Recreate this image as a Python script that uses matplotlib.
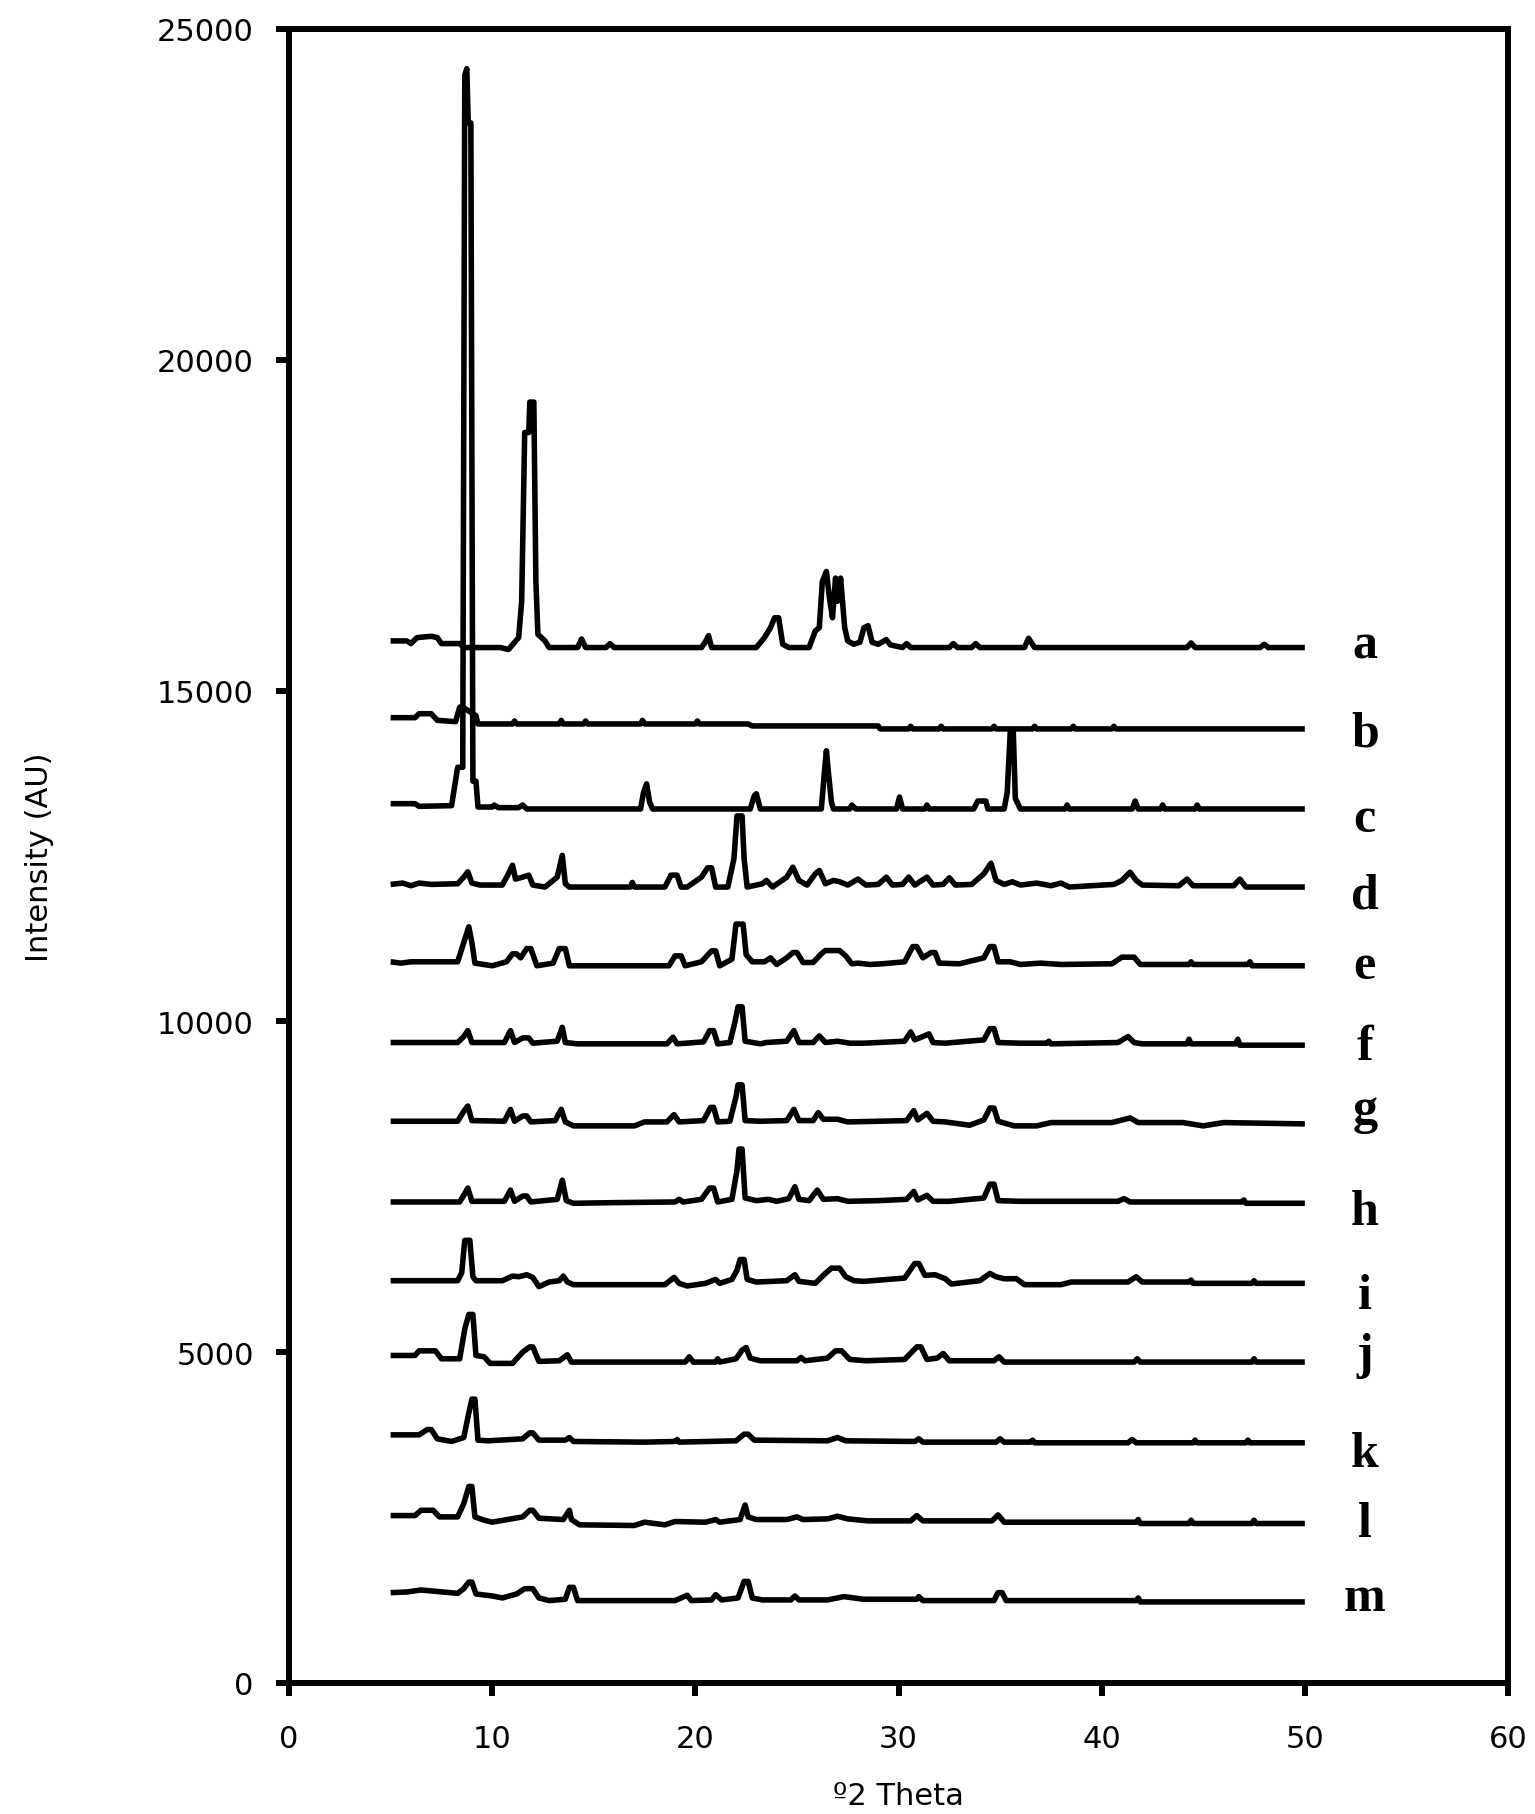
import matplotlib
matplotlib.use("Agg")
import matplotlib.pyplot as plt

# ---------------- data ----------------
labels = list("abcdefghijklm")
offsets = [15650, 14420, 13210, 12030, 10840, 9640, 8450, 7250, 6040, 4850, 3630, 2410, 1225]
label_x = 52.95
label_y = [15493, 14163, 12878, 11714, 10656, 9432, 8480, 6938, 5668, 4776, 3280, 2222, 1103]

# each profile: (2-theta, intensity above the trace offset)
a_prof = [(5.0,100),(5.8,100),(6.0,60),(6.3,150),(7.0,170),(7.3,150),(7.5,60),(8.4,60),(8.6,0),(10.4,0),
          (10.8,-30),(11.3,150),(11.45,690),(11.6,3250),(11.8,3250),(11.85,3710),(12.05,3710),(12.15,1000),
          (12.25,200),(12.6,100),(12.8,0),(14.2,0),(14.4,130),(14.6,0),(15.6,0),(15.8,60),(16.0,0),(20.3,0),
          (20.5,90),(20.65,180),(20.8,0),(23.0,0),(23.4,150),(23.7,300),(23.9,450),(24.1,450),(24.3,50),
          (24.6,0),(25.6,0),(25.9,250),(26.1,300),(26.25,1000),(26.45,1150),(26.6,750),(26.75,450),
          (26.9,1050),(27.0,700),(27.15,1050),(27.35,300),(27.5,100),(27.8,50),(28.1,80),(28.3,300),
          (28.5,330),(28.7,80),(29.0,50),(29.4,120),(29.6,40),(30.2,0),(30.4,60),(30.6,0),(32.5,0),
          (32.7,60),(32.9,0),(33.6,0),(33.8,60),(34.0,0),(36.2,0),(36.4,140),(36.7,0),(44.2,0),(44.4,70),
          (44.6,0),(47.8,0),(48.0,50),(48.2,0),(50.0,0)]
b_prof = [(5.0,170),(6.2,170),(6.4,230),(7.0,230),(7.3,130),(8.2,110),(8.4,330),(8.55,330),(9.2,200),
          (9.3,75),(11.0,75),(11.1,120),(11.2,75),(13.3,75),(13.4,130),(13.5,75),(14.5,75),(14.6,120),
          (14.7,75),(17.3,75),(17.4,130),(17.5,75),(20.0,75),(20.1,120),(20.2,75),(22.6,75),(22.8,45),
          (29.0,45),(29.1,0),(30.5,0),(30.6,40),(30.7,0),(32.0,0),(32.1,40),(32.2,0),(34.6,0),(34.7,40),
          (34.8,0),(36.6,0),(36.7,40),(36.8,0),(38.5,0),(38.6,40),(38.7,0),(40.5,0),(40.6,40),(40.7,0),
          (50.0,0)]
c_prof = [(5.0,80),(6.2,80),(6.4,40),(8.0,50),(8.3,630),(8.55,630),(8.65,11090),(8.75,11190),(8.82,10370),
          (8.95,10370),(9.05,420),(9.2,420),(9.3,30),(10.0,30),(10.1,60),(10.3,20),(11.3,20),(11.5,60),
          (11.7,0),(17.3,0),(17.45,250),(17.6,380),(17.75,100),(17.9,0),(22.7,0),(22.9,200),(23.0,230),
          (23.2,0),(26.2,0),(26.35,550),(26.45,880),(26.55,550),(26.7,100),(26.8,0),(27.6,0),(27.7,60),
          (27.9,0),(29.9,0),(30.05,180),(30.2,0),(31.3,0),(31.4,60),(31.5,0),(33.7,0),(33.9,120),
          (34.3,120),(34.4,0),(35.2,0),(35.35,250),(35.5,1160),(35.65,1160),(35.75,160),(36.0,0),(38.2,0),
          (38.3,60),(38.4,0),(41.5,0),(41.65,120),(41.8,0),(42.9,0),(43.0,60),(43.1,0),(44.6,0),(44.7,60),
          (44.8,0),(50.0,0)]
d_prof = [(5.0,40),(5.6,60),(6.0,20),(6.4,60),(7.0,40),(8.3,50),(8.6,150),(8.8,230),(9.0,60),(9.4,30),
          (10.5,30),(10.8,200),(11.0,330),(11.15,120),(11.5,150),(11.8,180),(12.0,30),(12.6,0),(13.2,150),
          (13.45,480),(13.6,50),(13.8,0),(16.8,0),(16.9,70),(17.0,0),(18.5,0),(18.8,180),(19.1,180),
          (19.3,0),(19.6,0),(20.3,150),(20.6,290),(20.8,290),(21.0,0),(21.6,0),(21.9,430),(22.05,1075),
          (22.3,1075),(22.4,430),(22.55,0),(23.3,50),(23.5,100),(23.8,0),(24.5,150),(24.8,300),(25.1,100),
          (25.5,30),(25.9,200),(26.1,250),(26.4,50),(26.8,100),(27.1,80),(27.5,30),(28.0,120),(28.4,30),
          (29.0,40),(29.4,150),(29.7,30),(30.2,40),(30.5,150),(30.8,30),(31.4,150),(31.7,30),(32.2,40),
          (32.5,140),(32.8,30),(33.6,40),(34.2,200),(34.55,360),(34.8,100),(35.2,40),(35.6,80),(36.0,30),
          (36.8,60),(37.5,20),(38.0,60),(38.4,0),(40.6,40),(41.0,100),(41.4,225),(41.7,100),(42.0,30),
          (43.8,20),(44.2,120),(44.5,20),(46.5,20),(46.8,120),(47.1,0),(50.0,0)]
e_prof = [(5.0,60),(5.5,40),(6.0,60),(8.3,60),(8.6,350),(8.85,590),(9.0,350),(9.15,40),(10.0,0),(10.7,60),
          (11.0,180),(11.2,180),(11.4,120),(11.7,260),(11.9,260),(12.2,0),(13.0,40),(13.3,260),(13.6,260),
          (13.8,0),(18.7,0),(19.0,150),(19.3,150),(19.5,0),(20.3,60),(20.8,225),(21.0,225),(21.2,0),
          (21.8,100),(22.0,630),(22.35,630),(22.5,170),(22.8,60),(23.4,60),(23.7,120),(24.0,20),(24.5,120),
          (24.8,200),(25.0,200),(25.3,50),(25.8,50),(26.2,180),(26.4,230),(26.8,230),(27.1,230),(27.4,150),
          (27.7,30),(28.0,40),(28.6,20),(29.2,30),(30.3,60),(30.7,290),(30.9,290),(31.2,120),(31.6,200),
          (31.8,200),(32.0,40),(33.0,30),(34.2,120),(34.5,290),(34.7,290),(34.9,60),(35.5,60),(36.0,20),
          (37.0,40),(38.0,20),(40.5,30),(41.0,130),(41.6,130),(41.9,20),(44.3,20),(44.4,60),(44.5,20),
          (47.2,20),(47.3,60),(47.4,0),(50.0,0)]
f_prof = [(5.0,40),(8.3,40),(8.6,130),(8.8,220),(9.0,40),(10.6,40),(10.9,220),(11.1,40),(11.5,110),
          (11.8,110),(12.0,30),(13.2,60),(13.45,270),(13.6,40),(14.2,20),(18.6,20),(18.9,120),(19.1,20),
          (20.4,50),(20.7,220),(20.9,220),(21.1,20),(21.7,40),(21.95,350),(22.1,580),(22.3,580),(22.45,60),
          (23.2,20),(23.5,40),(24.5,60),(24.85,220),(25.1,40),(25.8,40),(26.1,140),(26.4,40),(27.0,60),
          (27.6,30),(28.3,30),(29.0,40),(30.3,60),(30.6,200),(30.8,80),(31.5,170),(31.7,40),(32.3,30),
          (34.2,80),(34.5,250),(34.7,250),(34.9,40),(36.0,30),(37.3,30),(37.4,60),(37.5,20),(40.8,40),
          (41.3,130),(41.6,40),(42.0,20),(44.2,20),(44.3,90),(44.4,20),(46.6,20),(46.7,90),(46.8,0),
          (50.0,0)]
g_prof = [(5.0,40),(8.3,40),(8.6,190),(8.8,270),(9.0,50),(10.6,40),(10.9,220),(11.1,40),(11.5,120),
          (11.7,120),(11.9,30),(13.1,50),(13.4,220),(13.6,30),(14.0,-30),(17.0,-30),(17.5,30),(18.6,30),
          (18.95,140),(19.2,30),(20.4,50),(20.75,250),(20.9,250),(21.1,30),(21.7,40),(22.0,410),(22.1,590),
          (22.3,590),(22.45,50),(23.2,40),(24.5,50),(24.85,220),(25.1,50),(25.8,50),(26.05,170),(26.3,70),
          (27.0,70),(27.5,30),(29.0,40),(30.4,50),(30.75,200),(30.95,60),(31.4,160),(31.7,40),(32.3,30),
          (33.5,-20),(34.2,60),(34.5,240),(34.7,240),(34.9,40),(35.7,-30),(36.8,-30),(37.5,20),(40.5,20),
          (41.4,90),(41.8,20),(44.0,20),(45.0,-30),(46.0,20),(50.0,0)]
h_prof = [(5.0,20),(8.4,20),(8.6,120),(8.8,230),(9.0,30),(10.6,30),(10.9,200),(11.1,30),(11.5,110),
          (11.7,110),(11.9,20),(13.2,60),(13.45,350),(13.65,40),(14.0,0),(16.0,10),(19.0,20),(19.2,60),
          (19.4,20),(20.3,60),(20.7,230),(20.9,230),(21.1,20),(21.8,60),(22.05,500),(22.15,820),(22.3,820),
          (22.45,80),(23.0,40),(23.6,60),(24.0,30),(24.6,70),(24.9,250),(25.1,60),(25.6,40),(26.0,200),
          (26.3,60),(27.0,70),(27.5,30),(29.0,40),(30.4,60),(30.75,180),(30.95,50),(31.4,120),(31.7,30),
          (32.5,30),(34.2,80),(34.5,290),(34.7,290),(34.9,40),(36.0,30),(40.8,30),(41.1,70),(41.4,20),
          (46.9,20),(47.0,50),(47.1,0),(50.0,0)]
i_prof = [(5.0,40),(8.3,40),(8.5,160),(8.65,650),(8.9,650),(9.05,100),(9.2,40),(10.5,40),(11.0,110),
          (11.3,100),(11.7,130),(12.0,90),(12.3,-50),(12.8,20),(13.3,40),(13.5,110),(13.7,20),(14.0,-20),
          (18.5,-20),(18.95,90),(19.2,0),(19.6,-40),(20.5,0),(21.0,60),(21.2,0),(21.8,60),(22.05,200),
          (22.2,360),(22.4,360),(22.55,60),(23.0,20),(24.5,40),(24.9,130),(25.1,30),(25.9,0),(26.4,150),
          (26.7,230),(27.1,230),(27.4,100),(27.8,40),(28.3,30),(29.5,60),(30.3,80),(30.8,300),(31.0,300),
          (31.3,120),(31.8,130),(32.3,70),(32.6,-10),(34.0,40),(34.5,150),(34.8,100),(35.2,70),(35.8,70),
          (36.2,-20),(38.0,-20),(38.5,20),(41.3,20),(41.7,100),(42.0,20),(44.3,20),(44.4,50),(44.5,0),
          (47.4,0),(47.5,40),(47.6,0),(50.0,0)]
j_prof = [(5.0,100),(6.2,100),(6.4,170),(7.2,170),(7.5,50),(8.4,50),(8.65,500),(8.85,720),(9.05,720),
          (9.2,100),(9.6,80),(9.9,-20),(11.0,-20),(11.5,150),(11.85,230),(12.0,230),(12.3,10),(13.3,20),
          (13.7,110),(13.9,0),(19.5,0),(19.7,80),(19.9,0),(21.0,0),(21.1,50),(21.2,0),(22.0,50),(22.3,180),
          (22.5,220),(22.7,60),(23.2,20),(25.0,20),(25.2,70),(25.4,20),(26.5,60),(26.9,170),(27.2,170),
          (27.6,40),(28.4,20),(30.3,40),(30.9,230),(31.1,230),(31.4,40),(31.9,60),(32.2,130),(32.5,20),
          (34.7,20),(34.95,80),(35.2,0),(41.6,0),(41.75,50),(41.9,0),(47.4,0),(47.5,50),(47.6,0),(50.0,0)]
k_prof = [(5.0,120),(6.4,120),(6.8,200),(7.0,200),(7.3,60),(8.0,20),(8.6,80),(8.85,450),(9.0,660),
          (9.15,660),(9.3,40),(9.8,30),(11.5,60),(11.85,150),(12.0,150),(12.3,40),(13.6,40),(13.8,80),
          (14.0,20),(17.5,10),(19.0,20),(19.1,50),(19.2,10),(22.0,30),(22.4,130),(22.6,130),(22.9,40),
          (26.5,30),(27.0,80),(27.4,30),(30.8,20),(31.0,60),(31.2,10),(34.8,10),(35.0,60),(35.2,10),
          (36.5,10),(36.6,40),(36.7,0),(41.3,0),(41.5,50),(41.7,0),(44.5,0),(44.6,40),(44.7,0),(47.1,0),
          (47.2,40),(47.3,0),(50.0,0)]
l_prof = [(5.0,120),(6.2,120),(6.5,200),(7.1,200),(7.4,100),(8.3,100),(8.6,300),(8.85,560),(9.0,560),
          (9.15,100),(9.6,50),(10.0,20),(11.5,100),(11.85,200),(12.0,200),(12.3,80),(13.5,60),(13.8,200),
          (13.9,60),(14.3,-20),(17.0,-30),(17.5,20),(18.5,-20),(19.0,30),(20.5,20),(21.0,60),(21.2,20),
          (22.2,60),(22.45,280),(22.6,100),(23.0,60),(24.5,60),(25.0,100),(25.3,60),(26.5,70),(27.0,110),
          (27.5,70),(28.5,40),(30.6,40),(30.9,120),(31.2,40),(34.6,40),(34.9,130),(35.2,20),(41.7,20),
          (41.8,60),(41.9,0),(44.3,0),(44.4,50),(44.5,0),(47.4,0),(47.5,50),(47.6,0),(50.0,0)]
m_prof = [(5.0,140),(5.8,150),(6.5,180),(7.2,160),(8.3,130),(8.6,200),(8.85,300),(9.0,300),(9.2,120),
          (10.0,90),(10.5,60),(11.2,120),(11.6,200),(12.0,200),(12.3,60),(12.8,20),(13.6,40),(13.8,220),
          (14.0,220),(14.2,20),(19.0,20),(19.6,100),(19.8,20),(20.8,30),(21.0,110),(21.3,30),(22.1,60),
          (22.4,310),(22.6,310),(22.8,60),(23.3,30),(24.7,30),(24.9,90),(25.1,30),(26.5,30),(27.0,60),
          (27.3,80),(28.3,40),(30.9,40),(31.0,80),(31.2,20),(34.7,20),(34.9,140),(35.1,140),(35.3,20),
          (41.7,20),(41.8,60),(41.9,0),(50.0,0)]
profiles = [a_prof, b_prof, c_prof, d_prof, e_prof, f_prof, g_prof, h_prof,
            i_prof, j_prof, k_prof, l_prof, m_prof]

x_ticks = [0, 10, 20, 30, 40, 50, 60]
y_ticks = [0, 5000, 10000, 15000, 20000, 25000]

# ---------------- figure ----------------
fig = plt.figure(figsize=(15.35, 18.15), dpi=100)
ax = fig.add_axes([0.1883, 0.0722, 0.7941, 0.9113])

for off, prof in zip(offsets, profiles):
    xs = [p[0] for p in prof]
    ys = [off + p[1] for p in prof]
    ax.plot(xs, ys, color="black", lw=4.0, solid_joinstyle="round", solid_capstyle="butt")

for lab, ly in zip(labels, label_y):
    ax.text(label_x, ly, lab, fontsize=36, fontweight="bold", family="Liberation Serif",
            ha="center", va="baseline", color="black")

ax.set_xlim(0, 60)
ax.set_ylim(0, 25000)
ax.set_xticks(x_ticks)
ax.set_yticks(y_ticks)
for s in ax.spines.values():
    s.set_linewidth(4.3)
ax.tick_params(axis="both", direction="out", length=9.4, width=4.3, labelsize=22)
ax.tick_params(axis="y", pad=16)
ax.tick_params(axis="x", pad=20)
ax.set_xlabel("º2 Theta", fontsize=22, labelpad=20)
ax.set_ylabel("Intensity (AU)", fontsize=22, labelpad=74)

fig.savefig("out.png", dpi=100, facecolor="white")
